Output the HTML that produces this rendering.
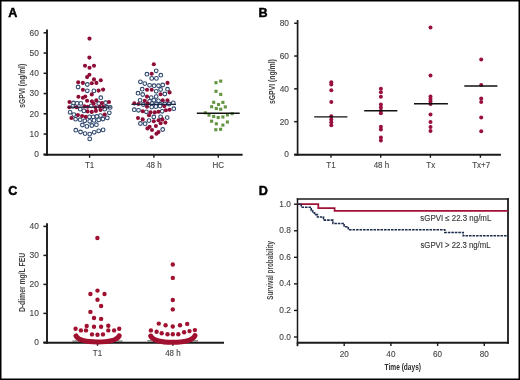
<!DOCTYPE html><html><head><meta charset="utf-8"><style>html,body{margin:0;padding:0;background:#fff;overflow:hidden;width:520px;height:380px;}svg{display:block;will-change:transform;font-family:"Liberation Sans",sans-serif;}</style></head><body>
<svg width="520" height="380" viewBox="0 0 520 380">
<rect x="0" y="0" width="520" height="380" fill="#fff"/>
<text x="8.2" y="16.7" font-size="12.6" text-anchor="start" fill="#000" font-weight="bold" stroke="#000" stroke-width="0.45">A</text>
<text x="258.6" y="16.8" font-size="12.6" text-anchor="start" fill="#000" font-weight="bold" stroke="#000" stroke-width="0.45">B</text>
<text x="8.3" y="194.8" font-size="12.6" text-anchor="start" fill="#000" font-weight="bold" stroke="#000" stroke-width="0.45">C</text>
<text x="258.8" y="194.8" font-size="12.6" text-anchor="start" fill="#000" font-weight="bold" stroke="#000" stroke-width="0.45">D</text>
<line x1="47" y1="29.5" x2="47" y2="155.7" stroke="#1a1a1a" stroke-width="1.9" />
<line x1="43.6" y1="154.8" x2="242.6" y2="154.8" stroke="#1a1a1a" stroke-width="1.9" />
<line x1="43.6" y1="154.3" x2="47" y2="154.3" stroke="#1a1a1a" stroke-width="1.5" />
<text transform="translate(38.9,157.2) scale(0.93,1)" font-size="9" text-anchor="end" fill="#454545" font-weight="normal"  stroke="#454545" stroke-width="0.12">0</text>
<line x1="43.6" y1="134.05" x2="47" y2="134.05" stroke="#1a1a1a" stroke-width="1.5" />
<text transform="translate(38.9,136.95) scale(0.93,1)" font-size="9" text-anchor="end" fill="#454545" font-weight="normal"  stroke="#454545" stroke-width="0.12">10</text>
<line x1="43.6" y1="113.8" x2="47" y2="113.8" stroke="#1a1a1a" stroke-width="1.5" />
<text transform="translate(38.9,116.7) scale(0.93,1)" font-size="9" text-anchor="end" fill="#454545" font-weight="normal"  stroke="#454545" stroke-width="0.12">20</text>
<line x1="43.6" y1="93.55" x2="47" y2="93.55" stroke="#1a1a1a" stroke-width="1.5" />
<text transform="translate(38.9,96.45) scale(0.93,1)" font-size="9" text-anchor="end" fill="#454545" font-weight="normal"  stroke="#454545" stroke-width="0.12">30</text>
<line x1="43.6" y1="73.3" x2="47" y2="73.3" stroke="#1a1a1a" stroke-width="1.5" />
<text transform="translate(38.9,76.2) scale(0.93,1)" font-size="9" text-anchor="end" fill="#454545" font-weight="normal"  stroke="#454545" stroke-width="0.12">40</text>
<line x1="43.6" y1="53.05" x2="47" y2="53.05" stroke="#1a1a1a" stroke-width="1.5" />
<text transform="translate(38.9,55.95) scale(0.93,1)" font-size="9" text-anchor="end" fill="#454545" font-weight="normal"  stroke="#454545" stroke-width="0.12">50</text>
<line x1="43.6" y1="32.8" x2="47" y2="32.8" stroke="#1a1a1a" stroke-width="1.5" />
<text transform="translate(38.9,35.7) scale(0.93,1)" font-size="9" text-anchor="end" fill="#454545" font-weight="normal"  stroke="#454545" stroke-width="0.12">60</text>
<line x1="89.6" y1="154.5" x2="89.6" y2="157.8" stroke="#1a1a1a" stroke-width="1.4" />
<text transform="translate(89.6,168.1) scale(0.86,1)" font-size="9.3" text-anchor="middle" fill="#454545" font-weight="normal"  stroke="#454545" stroke-width="0.12">T1</text>
<line x1="153.9" y1="154.5" x2="153.9" y2="157.8" stroke="#1a1a1a" stroke-width="1.4" />
<text transform="translate(153.9,168.1) scale(0.86,1)" font-size="9.3" text-anchor="middle" fill="#454545" font-weight="normal"  stroke="#454545" stroke-width="0.12">48 h</text>
<line x1="218.3" y1="154.5" x2="218.3" y2="157.8" stroke="#1a1a1a" stroke-width="1.4" />
<text transform="translate(218.3,168.1) scale(0.86,1)" font-size="9.3" text-anchor="middle" fill="#454545" font-weight="normal"  stroke="#454545" stroke-width="0.12">HC</text>
<text transform="translate(24.6,85.8) rotate(-90)" font-size="9.9" text-anchor="middle" fill="#454545" font-weight="bold" textLength="44" lengthAdjust="spacingAndGlyphs">sGPVI (ng/ml)</text>
<circle cx="87.3" cy="84.5" r="1.85" fill="#fff" stroke="#2e476f" stroke-width="1.1"/>
<circle cx="78.1" cy="87" r="1.85" fill="#fff" stroke="#2e476f" stroke-width="1.1"/>
<circle cx="87.3" cy="90.8" r="1.85" fill="#fff" stroke="#2e476f" stroke-width="1.1"/>
<circle cx="93.9" cy="90.9" r="1.85" fill="#fff" stroke="#2e476f" stroke-width="1.1"/>
<circle cx="100.8" cy="97.7" r="1.85" fill="#fff" stroke="#2e476f" stroke-width="1.1"/>
<circle cx="73.5" cy="103" r="1.85" fill="#fff" stroke="#2e476f" stroke-width="1.1"/>
<circle cx="77.1" cy="103.4" r="1.85" fill="#fff" stroke="#2e476f" stroke-width="1.1"/>
<circle cx="80.8" cy="103.4" r="1.85" fill="#fff" stroke="#2e476f" stroke-width="1.1"/>
<circle cx="98.7" cy="103.5" r="1.85" fill="#fff" stroke="#2e476f" stroke-width="1.1"/>
<circle cx="105.6" cy="102.7" r="1.85" fill="#fff" stroke="#2e476f" stroke-width="1.1"/>
<circle cx="72.8" cy="106.4" r="1.85" fill="#fff" stroke="#2e476f" stroke-width="1.1"/>
<circle cx="91.3" cy="105.9" r="1.85" fill="#fff" stroke="#2e476f" stroke-width="1.1"/>
<circle cx="107" cy="107.2" r="1.85" fill="#fff" stroke="#2e476f" stroke-width="1.1"/>
<circle cx="110.2" cy="107.4" r="1.85" fill="#fff" stroke="#2e476f" stroke-width="1.1"/>
<circle cx="80.2" cy="109.2" r="1.85" fill="#fff" stroke="#2e476f" stroke-width="1.1"/>
<circle cx="83.9" cy="110.9" r="1.85" fill="#fff" stroke="#2e476f" stroke-width="1.1"/>
<circle cx="104.7" cy="109.2" r="1.85" fill="#fff" stroke="#2e476f" stroke-width="1.1"/>
<circle cx="70.1" cy="112.3" r="1.85" fill="#fff" stroke="#2e476f" stroke-width="1.1"/>
<circle cx="109.3" cy="112.8" r="1.85" fill="#fff" stroke="#2e476f" stroke-width="1.1"/>
<circle cx="73.8" cy="114.6" r="1.85" fill="#fff" stroke="#2e476f" stroke-width="1.1"/>
<circle cx="89.5" cy="116.9" r="1.85" fill="#fff" stroke="#2e476f" stroke-width="1.1"/>
<circle cx="93.2" cy="116.9" r="1.85" fill="#fff" stroke="#2e476f" stroke-width="1.1"/>
<circle cx="96.9" cy="116.5" r="1.85" fill="#fff" stroke="#2e476f" stroke-width="1.1"/>
<circle cx="100.5" cy="115.6" r="1.85" fill="#fff" stroke="#2e476f" stroke-width="1.1"/>
<circle cx="75.6" cy="119.2" r="1.85" fill="#fff" stroke="#2e476f" stroke-width="1.1"/>
<circle cx="80.2" cy="119.7" r="1.85" fill="#fff" stroke="#2e476f" stroke-width="1.1"/>
<circle cx="84.8" cy="120.8" r="1.85" fill="#fff" stroke="#2e476f" stroke-width="1.1"/>
<circle cx="89.7" cy="121.3" r="1.85" fill="#fff" stroke="#2e476f" stroke-width="1.1"/>
<circle cx="94" cy="120.4" r="1.85" fill="#fff" stroke="#2e476f" stroke-width="1.1"/>
<circle cx="98.7" cy="119.9" r="1.85" fill="#fff" stroke="#2e476f" stroke-width="1.1"/>
<circle cx="102.9" cy="119" r="1.85" fill="#fff" stroke="#2e476f" stroke-width="1.1"/>
<circle cx="107.3" cy="117.9" r="1.85" fill="#fff" stroke="#2e476f" stroke-width="1.1"/>
<circle cx="82.4" cy="125" r="1.85" fill="#fff" stroke="#2e476f" stroke-width="1.1"/>
<circle cx="86.9" cy="126.4" r="1.85" fill="#fff" stroke="#2e476f" stroke-width="1.1"/>
<circle cx="91.8" cy="125.5" r="1.85" fill="#fff" stroke="#2e476f" stroke-width="1.1"/>
<circle cx="96.4" cy="124.7" r="1.85" fill="#fff" stroke="#2e476f" stroke-width="1.1"/>
<circle cx="75.8" cy="130.2" r="1.85" fill="#fff" stroke="#2e476f" stroke-width="1.1"/>
<circle cx="80.5" cy="132" r="1.85" fill="#fff" stroke="#2e476f" stroke-width="1.1"/>
<circle cx="85.1" cy="133.6" r="1.85" fill="#fff" stroke="#2e476f" stroke-width="1.1"/>
<circle cx="89.7" cy="134.1" r="1.85" fill="#fff" stroke="#2e476f" stroke-width="1.1"/>
<circle cx="94.2" cy="132.3" r="1.85" fill="#fff" stroke="#2e476f" stroke-width="1.1"/>
<circle cx="98.7" cy="130.9" r="1.85" fill="#fff" stroke="#2e476f" stroke-width="1.1"/>
<circle cx="103.1" cy="129.9" r="1.85" fill="#fff" stroke="#2e476f" stroke-width="1.1"/>
<circle cx="89.7" cy="138.9" r="1.85" fill="#fff" stroke="#2e476f" stroke-width="1.1"/>
<circle cx="156.2" cy="70.8" r="1.85" fill="#fff" stroke="#2e476f" stroke-width="1.1"/>
<circle cx="146.9" cy="74.2" r="1.85" fill="#fff" stroke="#2e476f" stroke-width="1.1"/>
<circle cx="160.8" cy="75.2" r="1.85" fill="#fff" stroke="#2e476f" stroke-width="1.1"/>
<circle cx="151.7" cy="78.4" r="1.85" fill="#fff" stroke="#2e476f" stroke-width="1.1"/>
<circle cx="156.4" cy="78.4" r="1.85" fill="#fff" stroke="#2e476f" stroke-width="1.1"/>
<circle cx="140.4" cy="81.8" r="1.85" fill="#fff" stroke="#2e476f" stroke-width="1.1"/>
<circle cx="144.8" cy="83.6" r="1.85" fill="#fff" stroke="#2e476f" stroke-width="1.1"/>
<circle cx="149.6" cy="85.3" r="1.85" fill="#fff" stroke="#2e476f" stroke-width="1.1"/>
<circle cx="154.1" cy="85.7" r="1.85" fill="#fff" stroke="#2e476f" stroke-width="1.1"/>
<circle cx="158.5" cy="85.7" r="1.85" fill="#fff" stroke="#2e476f" stroke-width="1.1"/>
<circle cx="162.7" cy="85" r="1.85" fill="#fff" stroke="#2e476f" stroke-width="1.1"/>
<circle cx="142.2" cy="89.2" r="1.85" fill="#fff" stroke="#2e476f" stroke-width="1.1"/>
<circle cx="156.2" cy="91.3" r="1.85" fill="#fff" stroke="#2e476f" stroke-width="1.1"/>
<circle cx="160.6" cy="89.5" r="1.85" fill="#fff" stroke="#2e476f" stroke-width="1.1"/>
<circle cx="167.5" cy="89.2" r="1.85" fill="#fff" stroke="#2e476f" stroke-width="1.1"/>
<circle cx="138" cy="93.2" r="1.85" fill="#fff" stroke="#2e476f" stroke-width="1.1"/>
<circle cx="142.7" cy="94.5" r="1.85" fill="#fff" stroke="#2e476f" stroke-width="1.1"/>
<circle cx="164.8" cy="94" r="1.85" fill="#fff" stroke="#2e476f" stroke-width="1.1"/>
<circle cx="151.2" cy="97.6" r="1.85" fill="#fff" stroke="#2e476f" stroke-width="1.1"/>
<circle cx="156.2" cy="96.6" r="1.85" fill="#fff" stroke="#2e476f" stroke-width="1.1"/>
<circle cx="140.1" cy="100.3" r="1.85" fill="#fff" stroke="#2e476f" stroke-width="1.1"/>
<circle cx="149.6" cy="101.3" r="1.85" fill="#fff" stroke="#2e476f" stroke-width="1.1"/>
<circle cx="153.8" cy="100.3" r="1.85" fill="#fff" stroke="#2e476f" stroke-width="1.1"/>
<circle cx="158.5" cy="100.8" r="1.85" fill="#fff" stroke="#2e476f" stroke-width="1.1"/>
<circle cx="143.3" cy="104.5" r="1.85" fill="#fff" stroke="#2e476f" stroke-width="1.1"/>
<circle cx="152" cy="103.6" r="1.85" fill="#fff" stroke="#2e476f" stroke-width="1.1"/>
<circle cx="156.4" cy="104" r="1.85" fill="#fff" stroke="#2e476f" stroke-width="1.1"/>
<circle cx="160.6" cy="104.5" r="1.85" fill="#fff" stroke="#2e476f" stroke-width="1.1"/>
<circle cx="164.8" cy="104" r="1.85" fill="#fff" stroke="#2e476f" stroke-width="1.1"/>
<circle cx="169" cy="104" r="1.85" fill="#fff" stroke="#2e476f" stroke-width="1.1"/>
<circle cx="173.3" cy="102.9" r="1.85" fill="#fff" stroke="#2e476f" stroke-width="1.1"/>
<circle cx="151.7" cy="107.1" r="1.85" fill="#fff" stroke="#2e476f" stroke-width="1.1"/>
<circle cx="155.9" cy="106.6" r="1.85" fill="#fff" stroke="#2e476f" stroke-width="1.1"/>
<circle cx="160.1" cy="106.1" r="1.85" fill="#fff" stroke="#2e476f" stroke-width="1.1"/>
<circle cx="134.3" cy="109.7" r="1.85" fill="#fff" stroke="#2e476f" stroke-width="1.1"/>
<circle cx="138.5" cy="110.3" r="1.85" fill="#fff" stroke="#2e476f" stroke-width="1.1"/>
<circle cx="146.4" cy="111.8" r="1.85" fill="#fff" stroke="#2e476f" stroke-width="1.1"/>
<circle cx="162.2" cy="111.3" r="1.85" fill="#fff" stroke="#2e476f" stroke-width="1.1"/>
<circle cx="173.8" cy="108.7" r="1.85" fill="#fff" stroke="#2e476f" stroke-width="1.1"/>
<circle cx="153.8" cy="117" r="1.85" fill="#fff" stroke="#2e476f" stroke-width="1.1"/>
<circle cx="160.6" cy="116.8" r="1.85" fill="#fff" stroke="#2e476f" stroke-width="1.1"/>
<circle cx="167.2" cy="117.6" r="1.85" fill="#fff" stroke="#2e476f" stroke-width="1.1"/>
<circle cx="149" cy="120.6" r="1.85" fill="#fff" stroke="#2e476f" stroke-width="1.1"/>
<circle cx="140.4" cy="123.5" r="1.85" fill="#fff" stroke="#2e476f" stroke-width="1.1"/>
<circle cx="145.1" cy="123.7" r="1.85" fill="#fff" stroke="#2e476f" stroke-width="1.1"/>
<circle cx="162.7" cy="129.5" r="1.85" fill="#fff" stroke="#2e476f" stroke-width="1.1"/>
<circle cx="89.5" cy="38.6" r="2.05" fill="#8e0d37"/>
<circle cx="89.4" cy="57.6" r="2.05" fill="#8e0d37"/>
<circle cx="85" cy="65.8" r="2.05" fill="#8e0d37"/>
<circle cx="89.5" cy="67.8" r="2.05" fill="#8e0d37"/>
<circle cx="94" cy="65.8" r="2.05" fill="#8e0d37"/>
<circle cx="89.4" cy="74.8" r="2.05" fill="#8e0d37"/>
<circle cx="87.1" cy="77.1" r="2.05" fill="#8e0d37"/>
<circle cx="94" cy="79.4" r="2.05" fill="#8e0d37"/>
<circle cx="100.8" cy="80.3" r="2.05" fill="#8e0d37"/>
<circle cx="78.2" cy="82.2" r="2.05" fill="#8e0d37"/>
<circle cx="82.9" cy="82.9" r="2.05" fill="#8e0d37"/>
<circle cx="91.8" cy="83.2" r="2.05" fill="#8e0d37"/>
<circle cx="96.4" cy="82.9" r="2.05" fill="#8e0d37"/>
<circle cx="82.9" cy="89.8" r="2.05" fill="#8e0d37"/>
<circle cx="98.6" cy="90.6" r="2.05" fill="#8e0d37"/>
<circle cx="103.1" cy="89.6" r="2.05" fill="#8e0d37"/>
<circle cx="91.8" cy="94.4" r="2.05" fill="#8e0d37"/>
<circle cx="78.4" cy="96.8" r="2.05" fill="#8e0d37"/>
<circle cx="82.9" cy="97.8" r="2.05" fill="#8e0d37"/>
<circle cx="85.3" cy="96.5" r="2.05" fill="#8e0d37"/>
<circle cx="87.1" cy="100.7" r="2.05" fill="#8e0d37"/>
<circle cx="91.9" cy="101.2" r="2.05" fill="#8e0d37"/>
<circle cx="96.3" cy="100.4" r="2.05" fill="#8e0d37"/>
<circle cx="69.5" cy="102" r="2.05" fill="#8e0d37"/>
<circle cx="93.6" cy="103.6" r="2.05" fill="#8e0d37"/>
<circle cx="102" cy="103.1" r="2.05" fill="#8e0d37"/>
<circle cx="109" cy="102" r="2.05" fill="#8e0d37"/>
<circle cx="69.3" cy="107.2" r="2.05" fill="#8e0d37"/>
<circle cx="76.5" cy="107.2" r="2.05" fill="#8e0d37"/>
<circle cx="84.4" cy="106.4" r="2.05" fill="#8e0d37"/>
<circle cx="87.6" cy="106.8" r="2.05" fill="#8e0d37"/>
<circle cx="95.5" cy="107.2" r="2.05" fill="#8e0d37"/>
<circle cx="99.6" cy="106.8" r="2.05" fill="#8e0d37"/>
<circle cx="103.3" cy="106.8" r="2.05" fill="#8e0d37"/>
<circle cx="87.6" cy="111.4" r="2.05" fill="#8e0d37"/>
<circle cx="91.8" cy="111.9" r="2.05" fill="#8e0d37"/>
<circle cx="95.9" cy="110.9" r="2.05" fill="#8e0d37"/>
<circle cx="100.5" cy="110" r="2.05" fill="#8e0d37"/>
<circle cx="77.9" cy="115.1" r="2.05" fill="#8e0d37"/>
<circle cx="82.1" cy="116" r="2.05" fill="#8e0d37"/>
<circle cx="85.8" cy="116.9" r="2.05" fill="#8e0d37"/>
<circle cx="104.7" cy="114.6" r="2.05" fill="#8e0d37"/>
<circle cx="71.4" cy="118" r="2.05" fill="#8e0d37"/>
<circle cx="153.8" cy="64.3" r="2.05" fill="#8e0d37"/>
<circle cx="151.7" cy="73.7" r="2.05" fill="#8e0d37"/>
<circle cx="167.5" cy="82.9" r="2.05" fill="#8e0d37"/>
<circle cx="147" cy="89.7" r="2.05" fill="#8e0d37"/>
<circle cx="151.7" cy="89.7" r="2.05" fill="#8e0d37"/>
<circle cx="169.6" cy="92.4" r="2.05" fill="#8e0d37"/>
<circle cx="160.6" cy="94.3" r="2.05" fill="#8e0d37"/>
<circle cx="147" cy="96.6" r="2.05" fill="#8e0d37"/>
<circle cx="144.8" cy="100.8" r="2.05" fill="#8e0d37"/>
<circle cx="162.7" cy="100.3" r="2.05" fill="#8e0d37"/>
<circle cx="167.5" cy="100.3" r="2.05" fill="#8e0d37"/>
<circle cx="134.3" cy="103.4" r="2.05" fill="#8e0d37"/>
<circle cx="138.5" cy="104" r="2.05" fill="#8e0d37"/>
<circle cx="147.5" cy="103.5" r="2.05" fill="#8e0d37"/>
<circle cx="147" cy="106.6" r="2.05" fill="#8e0d37"/>
<circle cx="164.3" cy="106.1" r="2.05" fill="#8e0d37"/>
<circle cx="142.7" cy="111.3" r="2.05" fill="#8e0d37"/>
<circle cx="150.6" cy="112.4" r="2.05" fill="#8e0d37"/>
<circle cx="154.8" cy="112.4" r="2.05" fill="#8e0d37"/>
<circle cx="158.5" cy="111.8" r="2.05" fill="#8e0d37"/>
<circle cx="165.9" cy="110.3" r="2.05" fill="#8e0d37"/>
<circle cx="169.6" cy="109.7" r="2.05" fill="#8e0d37"/>
<circle cx="149" cy="115.2" r="2.05" fill="#8e0d37"/>
<circle cx="138" cy="118" r="2.05" fill="#8e0d37"/>
<circle cx="142.7" cy="119.4" r="2.05" fill="#8e0d37"/>
<circle cx="153.8" cy="121.2" r="2.05" fill="#8e0d37"/>
<circle cx="158.5" cy="120.2" r="2.05" fill="#8e0d37"/>
<circle cx="162.4" cy="119.4" r="2.05" fill="#8e0d37"/>
<circle cx="160.6" cy="123.2" r="2.05" fill="#8e0d37"/>
<circle cx="165.4" cy="122.6" r="2.05" fill="#8e0d37"/>
<circle cx="155.9" cy="126" r="2.05" fill="#8e0d37"/>
<circle cx="149.6" cy="126.8" r="2.05" fill="#8e0d37"/>
<circle cx="147.5" cy="128.4" r="2.05" fill="#8e0d37"/>
<circle cx="152" cy="130" r="2.05" fill="#8e0d37"/>
<circle cx="158.5" cy="132.1" r="2.05" fill="#8e0d37"/>
<circle cx="156.4" cy="133.7" r="2.05" fill="#8e0d37"/>
<circle cx="151.7" cy="137.2" r="2.05" fill="#8e0d37"/>
<line x1="68.5" y1="107.1" x2="111.5" y2="107.1" stroke="#1c2740" stroke-width="1.15" />
<line x1="131.5" y1="104.3" x2="176" y2="104.3" stroke="#1c2740" stroke-width="1.15" />
<rect x="219.15" y="79.55" width="3.1" height="3.1" fill="#63943f"/>
<rect x="214.45" y="81.15" width="3.1" height="3.1" fill="#63943f"/>
<rect x="214.45" y="89.75" width="3.1" height="3.1" fill="#63943f"/>
<rect x="219.15" y="92.85" width="3.1" height="3.1" fill="#63943f"/>
<rect x="212.15" y="100.75" width="3.1" height="3.1" fill="#63943f"/>
<rect x="216.95" y="102.95" width="3.1" height="3.1" fill="#63943f"/>
<rect x="221.35" y="100.85" width="3.1" height="3.1" fill="#63943f"/>
<rect x="210.05" y="105.15" width="3.1" height="3.1" fill="#63943f"/>
<rect x="214.75" y="106.95" width="3.1" height="3.1" fill="#63943f"/>
<rect x="219.15" y="107.65" width="3.1" height="3.1" fill="#63943f"/>
<rect x="223.75" y="105.35" width="3.1" height="3.1" fill="#63943f"/>
<rect x="203.75" y="111.25" width="3.1" height="3.1" fill="#63943f"/>
<rect x="207.45" y="113.55" width="3.1" height="3.1" fill="#63943f"/>
<rect x="212.15" y="114.85" width="3.1" height="3.1" fill="#63943f"/>
<rect x="216.65" y="115.95" width="3.1" height="3.1" fill="#63943f"/>
<rect x="221.35" y="115.45" width="3.1" height="3.1" fill="#63943f"/>
<rect x="225.85" y="113.35" width="3.1" height="3.1" fill="#63943f"/>
<rect x="230.55" y="112.15" width="3.1" height="3.1" fill="#63943f"/>
<rect x="210.05" y="119.65" width="3.1" height="3.1" fill="#63943f"/>
<rect x="214.85" y="122.25" width="3.1" height="3.1" fill="#63943f"/>
<rect x="221.35" y="123.55" width="3.1" height="3.1" fill="#63943f"/>
<rect x="225.85" y="120.45" width="3.1" height="3.1" fill="#63943f"/>
<rect x="214.25" y="128.15" width="3.1" height="3.1" fill="#63943f"/>
<rect x="219.05" y="127.75" width="3.1" height="3.1" fill="#63943f"/>
<line x1="196.8" y1="113.3" x2="239.7" y2="113.3" stroke="#111" stroke-width="1.5" />
<line x1="297.6" y1="20" x2="297.6" y2="155.7" stroke="#1a1a1a" stroke-width="1.7" />
<line x1="294.2" y1="154.8" x2="500.9" y2="154.8" stroke="#1a1a1a" stroke-width="1.9" />
<line x1="294.2" y1="154.5" x2="297.6" y2="154.5" stroke="#1a1a1a" stroke-width="1.5" />
<text transform="translate(289,157.4) scale(0.93,1)" font-size="9" text-anchor="end" fill="#454545" font-weight="normal"  stroke="#454545" stroke-width="0.12">0</text>
<line x1="294.2" y1="121.68" x2="297.6" y2="121.68" stroke="#1a1a1a" stroke-width="1.5" />
<text transform="translate(289,124.58) scale(0.93,1)" font-size="9" text-anchor="end" fill="#454545" font-weight="normal"  stroke="#454545" stroke-width="0.12">20</text>
<line x1="294.2" y1="88.86" x2="297.6" y2="88.86" stroke="#1a1a1a" stroke-width="1.5" />
<text transform="translate(289,91.76) scale(0.93,1)" font-size="9" text-anchor="end" fill="#454545" font-weight="normal"  stroke="#454545" stroke-width="0.12">40</text>
<line x1="294.2" y1="56.04" x2="297.6" y2="56.04" stroke="#1a1a1a" stroke-width="1.5" />
<text transform="translate(289,58.94) scale(0.93,1)" font-size="9" text-anchor="end" fill="#454545" font-weight="normal"  stroke="#454545" stroke-width="0.12">60</text>
<line x1="294.2" y1="23.22" x2="297.6" y2="23.22" stroke="#1a1a1a" stroke-width="1.5" />
<text transform="translate(289,26.12) scale(0.93,1)" font-size="9" text-anchor="end" fill="#454545" font-weight="normal"  stroke="#454545" stroke-width="0.12">80</text>
<line x1="331" y1="154.5" x2="331" y2="157.8" stroke="#1a1a1a" stroke-width="1.4" />
<text transform="translate(331,168.1) scale(0.86,1)" font-size="9.3" text-anchor="middle" fill="#454545" font-weight="normal"  stroke="#454545" stroke-width="0.12">T1</text>
<line x1="380.7" y1="154.5" x2="380.7" y2="157.8" stroke="#1a1a1a" stroke-width="1.4" />
<text transform="translate(381.4,168.1) scale(0.86,1)" font-size="9.3" text-anchor="middle" fill="#454545" font-weight="normal"  stroke="#454545" stroke-width="0.12">48 h</text>
<line x1="430.4" y1="154.5" x2="430.4" y2="157.8" stroke="#1a1a1a" stroke-width="1.4" />
<text transform="translate(430.7,168.1) scale(0.86,1)" font-size="9.3" text-anchor="middle" fill="#454545" font-weight="normal"  stroke="#454545" stroke-width="0.12">Tx</text>
<line x1="480.4" y1="154.5" x2="480.4" y2="157.8" stroke="#1a1a1a" stroke-width="1.4" />
<text transform="translate(481.2,168.1) scale(0.86,1)" font-size="9.3" text-anchor="middle" fill="#454545" font-weight="normal"  stroke="#454545" stroke-width="0.12">Tx+7</text>
<text transform="translate(274.7,81.6) rotate(-90)" font-size="9.9" text-anchor="middle" fill="#454545" font-weight="bold" textLength="45" lengthAdjust="spacingAndGlyphs">sGPVI (ng/ml)</text>
<circle cx="331.3" cy="82.3" r="2" fill="#990f3e"/>
<circle cx="331.3" cy="84.6" r="2" fill="#990f3e"/>
<circle cx="331.3" cy="90.3" r="2" fill="#990f3e"/>
<circle cx="331.3" cy="102.1" r="2" fill="#990f3e"/>
<circle cx="331.3" cy="116.2" r="2" fill="#990f3e"/>
<circle cx="331.3" cy="119.4" r="2" fill="#990f3e"/>
<circle cx="331.3" cy="122.3" r="2" fill="#990f3e"/>
<circle cx="331.3" cy="125.2" r="2" fill="#990f3e"/>
<circle cx="380.9" cy="88.7" r="2" fill="#990f3e"/>
<circle cx="380.9" cy="92.2" r="2" fill="#990f3e"/>
<circle cx="380.9" cy="96.8" r="2" fill="#990f3e"/>
<circle cx="380.9" cy="104.6" r="2" fill="#990f3e"/>
<circle cx="380.9" cy="107.4" r="2" fill="#990f3e"/>
<circle cx="380.9" cy="110.8" r="2" fill="#990f3e"/>
<circle cx="380.9" cy="113.3" r="2" fill="#990f3e"/>
<circle cx="380.9" cy="126.7" r="2" fill="#990f3e"/>
<circle cx="380.9" cy="129.4" r="2" fill="#990f3e"/>
<circle cx="380.9" cy="137.4" r="2" fill="#990f3e"/>
<circle cx="380.9" cy="140.4" r="2" fill="#990f3e"/>
<circle cx="430.5" cy="27.6" r="2" fill="#990f3e"/>
<circle cx="430.5" cy="75.6" r="2" fill="#990f3e"/>
<circle cx="430.5" cy="96.5" r="2" fill="#990f3e"/>
<circle cx="430.5" cy="99" r="2" fill="#990f3e"/>
<circle cx="430.5" cy="101.5" r="2" fill="#990f3e"/>
<circle cx="430.5" cy="104" r="2" fill="#990f3e"/>
<circle cx="430.5" cy="114.4" r="2" fill="#990f3e"/>
<circle cx="430.5" cy="121.9" r="2" fill="#990f3e"/>
<circle cx="430.5" cy="127" r="2" fill="#990f3e"/>
<circle cx="430.5" cy="130.9" r="2" fill="#990f3e"/>
<circle cx="481.2" cy="59.5" r="2" fill="#990f3e"/>
<circle cx="481.2" cy="85.1" r="2" fill="#990f3e"/>
<circle cx="481.2" cy="98.6" r="2" fill="#990f3e"/>
<circle cx="481.2" cy="102.1" r="2" fill="#990f3e"/>
<circle cx="481.2" cy="117.5" r="2" fill="#990f3e"/>
<circle cx="481.2" cy="131.3" r="2" fill="#990f3e"/>
<line x1="314.2" y1="116.9" x2="347.4" y2="116.9" stroke="#111" stroke-width="1.4" />
<line x1="364.2" y1="110.8" x2="397.3" y2="110.8" stroke="#111" stroke-width="1.4" />
<line x1="414" y1="103.7" x2="447.9" y2="103.7" stroke="#111" stroke-width="1.4" />
<line x1="464.3" y1="86" x2="497.4" y2="86" stroke="#111" stroke-width="1.4" />
<line x1="47" y1="223.3" x2="47" y2="343.7" stroke="#1a1a1a" stroke-width="1.9" />
<line x1="43.4" y1="342.8" x2="224" y2="342.8" stroke="#1a1a1a" stroke-width="1.9" />
<line x1="43.4" y1="342.4" x2="47" y2="342.4" stroke="#1a1a1a" stroke-width="1.5" />
<text transform="translate(38.9,345.3) scale(0.93,1)" font-size="9" text-anchor="end" fill="#454545" font-weight="normal"  stroke="#454545" stroke-width="0.12">0</text>
<line x1="43.4" y1="313.4" x2="47" y2="313.4" stroke="#1a1a1a" stroke-width="1.5" />
<text transform="translate(38.9,316.3) scale(0.93,1)" font-size="9" text-anchor="end" fill="#454545" font-weight="normal"  stroke="#454545" stroke-width="0.12">10</text>
<line x1="43.4" y1="284.4" x2="47" y2="284.4" stroke="#1a1a1a" stroke-width="1.5" />
<text transform="translate(38.9,287.3) scale(0.93,1)" font-size="9" text-anchor="end" fill="#454545" font-weight="normal"  stroke="#454545" stroke-width="0.12">20</text>
<line x1="43.4" y1="255.4" x2="47" y2="255.4" stroke="#1a1a1a" stroke-width="1.5" />
<text transform="translate(38.9,258.3) scale(0.93,1)" font-size="9" text-anchor="end" fill="#454545" font-weight="normal"  stroke="#454545" stroke-width="0.12">30</text>
<line x1="43.4" y1="226.4" x2="47" y2="226.4" stroke="#1a1a1a" stroke-width="1.5" />
<text transform="translate(38.9,229.3) scale(0.93,1)" font-size="9" text-anchor="end" fill="#454545" font-weight="normal"  stroke="#454545" stroke-width="0.12">40</text>
<line x1="97.5" y1="342.5" x2="97.5" y2="345.8" stroke="#1a1a1a" stroke-width="1.4" />
<text transform="translate(97.5,356.4) scale(0.95,1)" font-size="8.4" text-anchor="middle" fill="#454545" font-weight="normal"  stroke="#454545" stroke-width="0.12">T1</text>
<line x1="172.9" y1="342.5" x2="172.9" y2="345.8" stroke="#1a1a1a" stroke-width="1.4" />
<text transform="translate(172.9,356.4) scale(0.95,1)" font-size="8.4" text-anchor="middle" fill="#454545" font-weight="normal"  stroke="#454545" stroke-width="0.12">48 h</text>
<text transform="translate(24.8,282.5) rotate(-90)" font-size="9.9" text-anchor="middle" fill="#454545" font-weight="bold" textLength="59.2" lengthAdjust="spacingAndGlyphs">D-dimer mg/L FEU</text>
<line x1="72.4" y1="341.1" x2="122.6" y2="341.1" stroke="#6a6a6a" stroke-width="1.2" />
<line x1="147.4" y1="340.9" x2="198" y2="340.9" stroke="#6a6a6a" stroke-width="1.2" />
<path d="M76.0 335.9 C78.2 340.2 86 341.9 97.5 341.9 C109 341.9 117 340.2 119.2 335.8" fill="none" stroke="#a0112f" stroke-width="5" stroke-linecap="round"/>
<path d="M150.7 336.0 C153 340.4 161 342.3 172.8 342.3 C184.5 342.3 192.7 340.2 195.0 335.6" fill="none" stroke="#a0112f" stroke-width="5" stroke-linecap="round"/>
<circle cx="97.4" cy="238" r="2.2" fill="#a0112f"/>
<circle cx="90.4" cy="294" r="2.2" fill="#a0112f"/>
<circle cx="97.5" cy="290.6" r="2.2" fill="#a0112f"/>
<circle cx="104.5" cy="294" r="2.2" fill="#a0112f"/>
<circle cx="97.5" cy="299.8" r="2.2" fill="#a0112f"/>
<circle cx="101.1" cy="306" r="2.2" fill="#a0112f"/>
<circle cx="90.4" cy="311.9" r="2.2" fill="#a0112f"/>
<circle cx="94" cy="318" r="2.2" fill="#a0112f"/>
<circle cx="101.1" cy="318.9" r="2.2" fill="#a0112f"/>
<circle cx="86.7" cy="326" r="2.2" fill="#a0112f"/>
<circle cx="94" cy="326.7" r="2.2" fill="#a0112f"/>
<circle cx="101.1" cy="326.7" r="2.2" fill="#a0112f"/>
<circle cx="108.3" cy="325.8" r="2.2" fill="#a0112f"/>
<circle cx="75.6" cy="328.8" r="2.2" fill="#a0112f"/>
<circle cx="80.9" cy="330.4" r="2.2" fill="#a0112f"/>
<circle cx="86" cy="330.4" r="2.2" fill="#a0112f"/>
<circle cx="108.3" cy="330.4" r="2.2" fill="#a0112f"/>
<circle cx="114.1" cy="330.4" r="2.2" fill="#a0112f"/>
<circle cx="119.2" cy="328.8" r="2.2" fill="#a0112f"/>
<circle cx="92" cy="334.4" r="2.2" fill="#a0112f"/>
<circle cx="97.5" cy="334.7" r="2.2" fill="#a0112f"/>
<circle cx="103" cy="334.4" r="2.2" fill="#a0112f"/>
<circle cx="172.8" cy="264.5" r="2.2" fill="#a0112f"/>
<circle cx="172.8" cy="277.9" r="2.2" fill="#a0112f"/>
<circle cx="172.8" cy="300" r="2.2" fill="#a0112f"/>
<circle cx="172.8" cy="309.4" r="2.2" fill="#a0112f"/>
<circle cx="158.8" cy="323.6" r="2.2" fill="#a0112f"/>
<circle cx="165.6" cy="325.3" r="2.2" fill="#a0112f"/>
<circle cx="172.8" cy="326.5" r="2.2" fill="#a0112f"/>
<circle cx="180" cy="325.3" r="2.2" fill="#a0112f"/>
<circle cx="187.2" cy="323.9" r="2.2" fill="#a0112f"/>
<circle cx="150.9" cy="330.4" r="2.2" fill="#a0112f"/>
<circle cx="156.6" cy="331.8" r="2.2" fill="#a0112f"/>
<circle cx="161.7" cy="333.2" r="2.2" fill="#a0112f"/>
<circle cx="167.5" cy="334.2" r="2.2" fill="#a0112f"/>
<circle cx="172.8" cy="334.2" r="2.2" fill="#a0112f"/>
<circle cx="178.3" cy="334.2" r="2.2" fill="#a0112f"/>
<circle cx="184.1" cy="332.2" r="2.2" fill="#a0112f"/>
<circle cx="189.5" cy="331.1" r="2.2" fill="#a0112f"/>
<circle cx="194.9" cy="330.1" r="2.2" fill="#a0112f"/>
<line x1="297.5" y1="198.3" x2="297.5" y2="346.2" stroke="#1a1a1a" stroke-width="1.5" />
<line x1="296.8" y1="199" x2="508.9" y2="199" stroke="#1a1a1a" stroke-width="1.5" />
<line x1="508" y1="198.3" x2="508" y2="343.75" stroke="#1a1a1a" stroke-width="1.8" />
<line x1="296.8" y1="342.75" x2="508.9" y2="342.75" stroke="#1a1a1a" stroke-width="2" />
<line x1="294" y1="337" x2="297.5" y2="337" stroke="#1a1a1a" stroke-width="1.4" />
<text transform="translate(291,339.6) scale(0.93,1)" font-size="9" text-anchor="end" fill="#454545" font-weight="normal"  stroke="#454545" stroke-width="0.12">0.0</text>
<line x1="294" y1="310.44" x2="297.5" y2="310.44" stroke="#1a1a1a" stroke-width="1.4" />
<text transform="translate(291,313.04) scale(0.93,1)" font-size="9" text-anchor="end" fill="#454545" font-weight="normal"  stroke="#454545" stroke-width="0.12">0.2</text>
<line x1="294" y1="283.88" x2="297.5" y2="283.88" stroke="#1a1a1a" stroke-width="1.4" />
<text transform="translate(291,286.48) scale(0.93,1)" font-size="9" text-anchor="end" fill="#454545" font-weight="normal"  stroke="#454545" stroke-width="0.12">0.4</text>
<line x1="294" y1="257.32" x2="297.5" y2="257.32" stroke="#1a1a1a" stroke-width="1.4" />
<text transform="translate(291,259.92) scale(0.93,1)" font-size="9" text-anchor="end" fill="#454545" font-weight="normal"  stroke="#454545" stroke-width="0.12">0.6</text>
<line x1="294" y1="230.76" x2="297.5" y2="230.76" stroke="#1a1a1a" stroke-width="1.4" />
<text transform="translate(291,233.36) scale(0.93,1)" font-size="9" text-anchor="end" fill="#454545" font-weight="normal"  stroke="#454545" stroke-width="0.12">0.8</text>
<line x1="294" y1="204.2" x2="297.5" y2="204.2" stroke="#1a1a1a" stroke-width="1.4" />
<text transform="translate(291,206.8) scale(0.93,1)" font-size="9" text-anchor="end" fill="#454545" font-weight="normal"  stroke="#454545" stroke-width="0.12">1.0</text>
<line x1="297.5" y1="342.75" x2="297.5" y2="346" stroke="#1a1a1a" stroke-width="1.4" />
<line x1="344.2" y1="342.75" x2="344.2" y2="346" stroke="#1a1a1a" stroke-width="1.4" />
<text transform="translate(344.2,357) scale(0.95,1)" font-size="8.6" text-anchor="middle" fill="#454545" font-weight="normal"  stroke="#454545" stroke-width="0.12">20</text>
<line x1="390.9" y1="342.75" x2="390.9" y2="346" stroke="#1a1a1a" stroke-width="1.4" />
<text transform="translate(390.9,357) scale(0.95,1)" font-size="8.6" text-anchor="middle" fill="#454545" font-weight="normal"  stroke="#454545" stroke-width="0.12">40</text>
<line x1="437.6" y1="342.75" x2="437.6" y2="346" stroke="#1a1a1a" stroke-width="1.4" />
<text transform="translate(437.6,357) scale(0.95,1)" font-size="8.6" text-anchor="middle" fill="#454545" font-weight="normal"  stroke="#454545" stroke-width="0.12">60</text>
<line x1="484.3" y1="342.75" x2="484.3" y2="346" stroke="#1a1a1a" stroke-width="1.4" />
<text transform="translate(484.3,357) scale(0.95,1)" font-size="8.6" text-anchor="middle" fill="#454545" font-weight="normal"  stroke="#454545" stroke-width="0.12">80</text>
<text x="402.8" y="370.4" font-size="9.8" text-anchor="middle" fill="#2a2a2a" font-weight="bold" textLength="36.4" lengthAdjust="spacingAndGlyphs">Time (days)</text>
<text transform="translate(273,270.4) rotate(-90)" font-size="9.9" text-anchor="middle" fill="#454545" font-weight="bold" textLength="58.8" lengthAdjust="spacingAndGlyphs">Survival probability</text>
<path d="M297.5 204.2 H318.3 V208.1 H334.6 V210.9 H508" fill="none" stroke="#a01238" stroke-width="1.8"/>
<path d="M297.5 204.2 H301.2 V207.2 H311.2 V210.4 H312.7 V212.8 H314.6 V214.6 H317.5 V216.9 H323.5 V220.1 H332.9 V223.4 H344.1 V226.7 H348.3 V229.7 H444.8 V232.4 H463.2 V235.7 H508" fill="none" stroke="#1c2c4c" stroke-width="1.55" stroke-dasharray="2.6 0.9"/>
<text x="455.8" y="221" font-size="8.4" text-anchor="middle" fill="#333" font-weight="normal" textLength="71" lengthAdjust="spacingAndGlyphs" stroke="#333" stroke-width="0.12">sGPVI &#8804; 22.3 ng/mL</text>
<text x="455.5" y="248" font-size="8.4" text-anchor="middle" fill="#333" font-weight="normal" textLength="70" lengthAdjust="spacingAndGlyphs" stroke="#333" stroke-width="0.12">sGPVI &gt; 22.3 ng/mL</text>
<rect x="0.75" y="0.75" width="518.5" height="378.5" fill="none" stroke="#000" stroke-width="1.5"/>
</svg></body></html>
